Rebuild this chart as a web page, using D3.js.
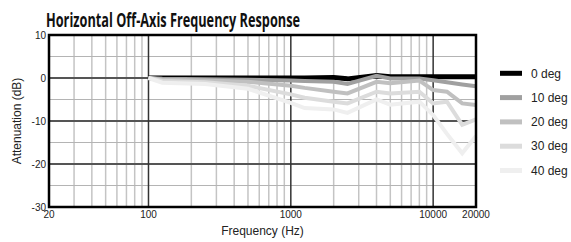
<!DOCTYPE html>
<html><head><meta charset="utf-8">
<script src="https://cdn.jsdelivr.net/npm/d3@7"></script>
<style>body{margin:0;background:#fff}svg{display:block}</style>
</head><body>
<svg id="c" width="571" height="242"></svg>
<script>
const title = "Horizontal Off-Axis Frequency Response";
const freqs = [100, 125, 250, 500, 1000, 1250, 2000, 2500, 4000, 5000, 8000, 10000, 12500, 16000, 20000];
const seriesNames = ["0 deg", "10 deg", "20 deg", "30 deg", "40 deg"];
const deg0  = [0, 0, 0, 0, 0, 0, 0.1, -0.2, 0.6, 0.3, 0.3, 0.3, 0.3, 0.3, 0.3];
const deg10 = [0, -0.2, -0.3, -0.4, -0.6, -0.7, -0.9, -1.4, 0.5, -0.1, -0.1, -0.5, -1.0, -1.5, -1.9];
const deg20 = [0, -0.4, -0.6, -0.9, -1.8, -2.3, -3.2, -3.6, -0.9, -1.2, -0.6, -2.8, -3.2, -5.9, -6.3];
const deg30 = [0, -0.7, -1.0, -1.8, -3.8, -4.6, -5.5, -5.9, -3.2, -3.6, -3.2, -5.9, -5.5, -10.9, -9.6];
const deg40 = [0, -1.1, -1.4, -2.5, -5.8, -7.0, -7.3, -8.1, -5.0, -6.2, -5.5, -8.6, -13.0, -17.5, -13.5];
const seriesValues = [deg0, deg10, deg20, deg30, deg40];
const colors = ["#000000", "#a0a0a0", "#c0c0c0", "#dcdcdc", "#efefef"];
const yTicks = [10, 0, -10, -20, -30];
const yMinor = [5, -5, -15, -25];
const xTicks = [20, 100, 1000, 10000, 20000];
const xMajorGrid = [100, 1000, 10000];
const xMinorGrid = [30,40,50,60,70,80,90,200,300,400,500,600,700,800,900,2000,3000,4000,5000,6000,7000,8000,9000];

const svg = d3.select("#c");
const L = 49, R = 476, T = 35, B = 207;
const x = d3.scaleLog().domain([20, 20000]).range([L, R]);
const y = d3.scaleLinear().domain([-30, 10]).range([B, T]);

svg.append("text").attr("x", 46).attr("y", 27)
  .attr("font-family", "Open Sans, sans-serif").attr("font-weight", 700)
  .attr("font-size", 19).attr("fill", "#111")
  .attr("textLength", 254).attr("lengthAdjust", "spacingAndGlyphs")
  .text(title);

const g = svg.append("g");
g.selectAll(".xm").data(xMinorGrid).join("line")
  .attr("x1", d => x(d)).attr("x2", d => x(d)).attr("y1", T).attr("y2", B)
  .attr("stroke", "#c4c4c4").attr("stroke-width", 1.5);
g.selectAll(".ym").data(yMinor).join("line")
  .attr("x1", L).attr("x2", R).attr("y1", d => y(d)).attr("y2", d => y(d))
  .attr("stroke", "#b4b4b4").attr("stroke-width", 1.2);
g.selectAll(".yM").data([0, -10, -20]).join("line")
  .attr("x1", L).attr("x2", R).attr("y1", d => y(d)).attr("y2", d => y(d))
  .attr("stroke", "#555").attr("stroke-width", 2);
g.selectAll(".xM").data(xMajorGrid).join("line")
  .attr("x1", d => x(d)).attr("x2", d => x(d)).attr("y1", T).attr("y2", B)
  .attr("stroke", "#333").attr("stroke-width", 1.5);

const line = d3.line().x((d, i) => x(freqs[i])).y(d => y(d));
[0, 1, 2, 3, 4].forEach(k => {
  svg.append("path").datum(seriesValues[k])
    .attr("d", line).attr("fill", "none")
    .attr("stroke", colors[k]).attr("stroke-width", k === 0 ? 5 : 4)
    .attr("stroke-linejoin", "miter");
});

svg.append("rect").attr("x", L).attr("y", T).attr("width", R - L).attr("height", B - T)
  .attr("fill", "none").attr("stroke", "#000").attr("stroke-width", 2.5);

const font = "Liberation Sans, Arial, Helvetica, sans-serif";
svg.selectAll(".yt").data(yTicks).join("text")
  .attr("x", 46).attr("y", d => y(d)).attr("dy", "0.35em")
  .attr("text-anchor", "end").attr("font-family", font).attr("font-size", 10).attr("fill", "#222")
  .text(d => d);
svg.selectAll(".xt").data(xTicks).join("text")
  .attr("x", d => x(d)).attr("y", 218)
  .attr("text-anchor", "middle").attr("font-family", font).attr("font-size", 10).attr("fill", "#222")
  .text(d => d);
svg.append("text").attr("x", (L + R) / 2).attr("y", 235).attr("text-anchor", "middle")
  .attr("font-family", font).attr("font-size", 12).attr("fill", "#222").text("Frequency (Hz)");
svg.append("text").attr("transform", `translate(21,${(T + B) / 2}) rotate(-90)`)
  .attr("text-anchor", "middle").attr("font-family", font).attr("font-size", 12).attr("fill", "#222")
  .text("Attenuation (dB)");

const lg = svg.append("g");
seriesNames.forEach((n, i) => {
  const yy = 73.3 + i * 24.3;
  lg.append("line").attr("x1", 500).attr("x2", 522).attr("y1", yy).attr("y2", yy)
    .attr("stroke", colors[i]).attr("stroke-width", 5);
  lg.append("text").attr("x", 531).attr("y", yy).attr("dy", "0.35em")
    .attr("font-family", font).attr("font-size", 12).attr("fill", "#222").text(n);
});
</script>
</body></html>
